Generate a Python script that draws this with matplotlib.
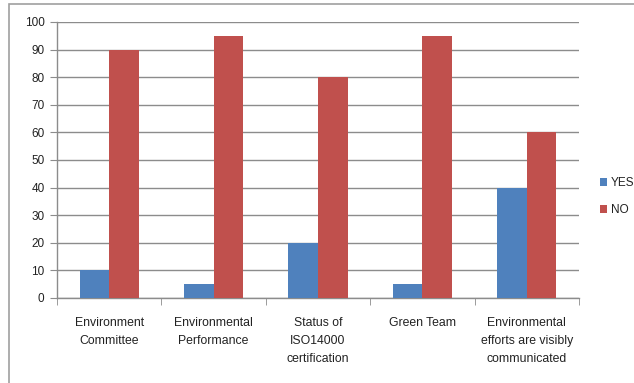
import matplotlib
matplotlib.use("Agg")
import matplotlib.pyplot as plt
from matplotlib.patches import Rectangle
import numpy as np

plt.rcParams['font.family'] = ['Liberation Sans', 'DejaVu Sans']

categories = ["Environment\nCommittee", "Environmental\nPerformance",
              "Status of\nISO14000\ncertification", "Green Team",
              "Environmental\nefforts are visibly\ncommunicated"]
yes_vals = [10, 5, 20, 5, 40]
no_vals = [90, 95, 80, 95, 60]
yticks = list(range(0, 101, 10))

W, H = 634, 383
fig = plt.figure(figsize=(W / 100, H / 100), dpi=100)
ax = fig.add_axes([57 / W, 1 - 298 / H, (579 - 57) / W, (298 - 22) / H])

x = np.arange(len(categories))
bw = 0.283
ax.bar(x - bw / 2, yes_vals, bw, color="#4F81BD", label="YES", zorder=3)
ax.bar(x + bw / 2, no_vals, bw, color="#C0504D", label="NO", zorder=3)

ax.set_xlim(-0.5, len(categories) - 0.5)
ax.set_ylim(0, 100)
ax.set_yticks(yticks)
ax.yaxis.grid(True, color="#8c8c8c", linewidth=1.0, zorder=0)
ax.tick_params(axis="y", length=5, color="#8c8c8c", labelsize=8.5, pad=4,
               labelcolor="#222222")

ax.set_xticks(x)
ax.set_xticklabels(categories, fontsize=8.8, linespacing=1.65, color="#222222",
                   va="top")
ax.tick_params(axis="x", length=0, pad=14)
ax.set_xticks(np.arange(-0.5, len(categories)), minor=True)
ax.tick_params(axis="x", which="minor", length=5, color="#8c8c8c")

for s in ["top", "right"]:
    ax.spines[s].set_visible(False)
for s in ["left", "bottom"]:
    ax.spines[s].set_color("#8c8c8c")
    ax.spines[s].set_linewidth(1.0)

leg = fig.legend(loc="upper left", bbox_to_anchor=(600 / W, 1 - 177 / H),
                 frameon=False, fontsize=8.5, handlelength=0.6, handleheight=0.6,
                 handletextpad=0.35, labelspacing=1.3, borderpad=0,
                 borderaxespad=0)
for t in leg.get_texts():
    t.set_color("#222222")

fig.patches.append(Rectangle((9 / W, -0.05), 1.1, 1 - 4 / H + 0.05,
                             transform=fig.transFigure, fill=False,
                             edgecolor="#a0a0a0", linewidth=1.2))

fig.savefig("out.png", dpi=100)
